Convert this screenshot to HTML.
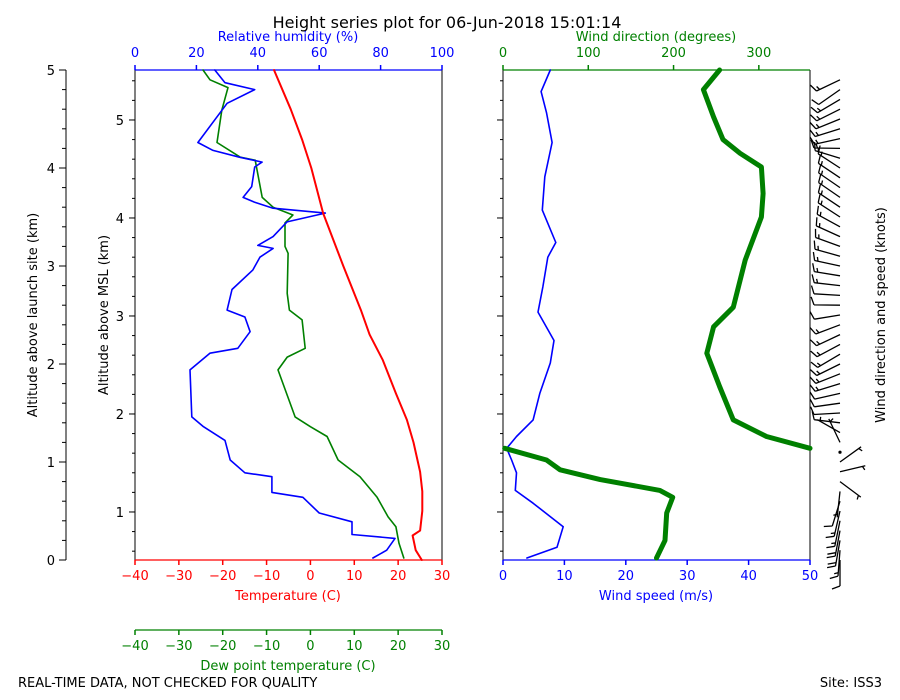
<!DOCTYPE html>
<html><head><meta charset="utf-8"><style>
body{margin:0;background:#fff;}
svg{display:block;font-family:"DejaVu Sans","Liberation Sans",sans-serif;}
</style></head><body>
<svg id="c" width="900" height="700" viewBox="0 0 900 700">
<rect width="900" height="700" fill="#fff"/>
<text x="447" y="28" font-size="16" text-anchor="middle">Height series plot for 06-Jun-2018 15:01:14</text>
<text x="18" y="687" font-size="13">REAL-TIME DATA, NOT CHECKED FOR QUALITY</text>
<text x="882" y="687" font-size="13" text-anchor="end">Site: ISS3</text>
<g id="g"></g>
</svg>
<script>
const tAlt=[0,0.1,0.25,0.3,0.5,0.7,0.9,1.0,1.2,1.43,1.7,2.04,2.3,2.55,3.0,3.54,4.0,4.29,4.6,5.0];
const temp=[25.4,24,23.3,25,25.5,25.5,25,24.5,23.5,22,19.5,16.5,13.5,11.5,7.5,2.9,0.2,-1.9,-4.5,-8.3];
const dAlt=[0.02,0.17,0.34,0.44,0.64,0.85,1.02,1.26,1.36,1.46,1.94,2.07,2.16,2.45,2.55,2.72,3.13,3.2,3.44,3.52,3.6,3.7,4.08,4.11,4.26,4.59,4.82,4.9,5.0];
const dew=[21.3,20.2,19.5,17.7,15.2,11.3,6.3,3.8,0,-3.5,-7.4,-5.3,-1.2,-1.9,-4.8,-5.3,-5.1,-5.8,-5.8,-4,-8.5,-11,-12.6,-16,-21.3,-20.2,-18.8,-22.9,-24.5];
const rAlt=[0.02,0.1,0.22,0.26,0.39,0.48,0.64,0.69,0.85,0.89,1.02,1.22,1.36,1.46,1.94,2.11,2.16,2.33,2.48,2.55,2.76,2.96,3.09,3.18,3.21,3.3,3.45,3.54,3.59,3.65,3.7,3.81,4.01,4.06,4.11,4.18,4.26,4.66,4.8,4.87,5.0];
const rh=[77.5,82,84.7,70.7,70.7,60,54.7,44.6,44.6,35.8,31,29.3,22.3,18.5,17.9,24.4,33.5,37.5,35.8,30,31.6,38.4,40.7,45,40,45,49.5,62,45,39,35.2,38,39,41.4,34,25.4,20.5,30,39,29.3,26];
const sAlt=[0.02,0.13,0.34,0.58,0.71,0.89,1.02,1.14,1.26,1.43,1.7,2.01,2.24,2.53,2.79,3.09,3.24,3.57,3.91,4.26,4.56,4.78,5.0];
const ws=[3.9,8.8,9.8,4.9,2.0,2.2,1.4,0.6,2.2,4.9,6.0,7.7,8.3,5.7,6.5,7.3,8.6,6.4,6.8,8.0,7.1,6.2,7.7];
const wAlt=[0.02,0.2,0.48,0.64,0.71,0.82,0.92,1.02,1.14,1.14,1.26,1.43,1.77,2.11,2.38,2.58,3.06,3.5,3.74,4.01,4.15,4.29,4.52,4.8,5.0];
const wd=[180,190,192,199,184,114,67,51,2,360,309,270,254,239,247,270,284,303,305,303,278,258,247,235,254];
const tTicks=[-40,-30,-20,-10,0,10,20,30];
const rhTicks=[0,20,40,60,80,100];
const wsTicks=[0,10,20,30,40,50];
const wdTicks=[0,100,200,300];
const altTicks=[0,1,2,3,4,5];
const mslTicks=[1,2,3,4,5];
const mslOffset=0.51;

const NS='http://www.w3.org/2000/svg';
const G=document.getElementById('g');
const yA=a=>560-a*98;
const xT=t=>135+(t+40)*307/70;
const xRH=r=>135+r*3.07;
const xWS=s=>503+s*6.14;
const xWD=d=>503+d*307/360;
function mk(tag,at,parent){const e=document.createElementNS(NS,tag);for(const k in at)e.setAttribute(k,at[k]);(parent||G).appendChild(e);return e;}
function line(x1,y1,x2,y2,c,w,name){const e=mk('line',{x1,y1,x2,y2,stroke:c,'stroke-width':w});

return e;}
function txt(x,y,s,c,anchor,name,size,rot){const e=mk('text',{x,y,fill:c,'font-size':size||13,'text-anchor':anchor||'middle'});e.textContent=s;if(rot)e.setAttribute('transform',`rotate(${rot} ${x} ${y})`);

return e;}
function series(alts,vals,fx,c,w,name){let d='';for(let i=0;i<alts.length;i++){const brk=i>0&&Math.abs(vals[i]-vals[i-1])>180;d+=(i==0||brk?'M':'L')+fx(vals[i]).toFixed(1)+','+yA(alts[i]).toFixed(1);}
const p=mk('path',{d,fill:'none',stroke:c,'stroke-width':w,'stroke-linejoin':'round','stroke-linecap':'round'});

}

// panel frames
line(135,70,135,560,'#000',1,'panel1-left-spine');
line(442,70,442,560,'#000',1,'panel1-right-spine');
line(503,70,503,560,'#000',1,'panel2-left-spine');
line(810,70,810,560,'#000',1,'panel2-right-spine');
line(66,70,66,560,'#000',1,'launch-altitude-axis');
// left launch axis
for(let a=0;a<=5.001;a+=0.2){line(62,yA(a),66,yA(a),'#000',1,'launch-minor-tick');}
altTicks.forEach(a=>{line(59,yA(a),66,yA(a),'#000',1,'launch-major-tick');txt(55,yA(a)+5,String(a),'#000','end','launch-tick-label');});
txt(37,315,'Altitude above launch site (km)','#000','middle','launch-axis-title',13,-90);
// MSL ticks on both panels
for(let m=0.6;m<=5.6;m+=0.2){const a=m-mslOffset;if(a<0||a>5)continue;line(132,yA(a),135,yA(a),'#000',1,'msl-minor-tick');line(500,yA(a),503,yA(a),'#000',1,'msl-minor-tick-p2');}
mslTicks.forEach(m=>{const a=m-mslOffset;line(129,yA(a),135,yA(a),'#000',1,'msl-major-tick');line(497,yA(a),503,yA(a),'#000',1,'msl-major-tick-p2');txt(124,yA(a)+5,String(m),'#000','end','msl-tick-label');});
txt(108,315,'Altitude above MSL (km)','#000','middle','msl-axis-title',13,-90);
// temperature axis
line(135,560,442,560,'red',1.2,'temperature-axis');
tTicks.forEach(t=>{line(xT(t),560,xT(t),565,'red',1.5,'temperature-tick');txt(xT(t),580,String(t).replace('-','\u2212'),'red','middle','temperature-tick-label');});
txt(288,600,'Temperature (C)','red','middle','temperature-axis-title');
// dew axis
line(135,630,442,630,'green',1.2,'dewpoint-axis');
tTicks.forEach(t=>{line(xT(t),630,xT(t),635,'green',1.5,'dewpoint-tick');txt(xT(t),650,String(t).replace('-','\u2212'),'green','middle','dewpoint-tick-label');});
txt(288,670,'Dew point temperature (C)','green','middle','dewpoint-axis-title');
// RH axis
line(135,70,442,70,'blue',1.2,'rh-axis');
rhTicks.forEach(r=>{line(xRH(r),65,xRH(r),70,'blue',1.5,'rh-tick');txt(xRH(r),57,String(r),'blue','middle','rh-tick-label');});
txt(288,41,'Relative humidity (%)','blue','middle','rh-axis-title');
// wind speed axis
line(503,560,810,560,'blue',1.2,'wind-speed-axis');
wsTicks.forEach(s=>{line(xWS(s),560,xWS(s),565,'blue',1.5,'wind-speed-tick');txt(xWS(s),580,String(s),'blue','middle','wind-speed-tick-label');});
txt(656,600,'Wind speed (m/s)','blue','middle','wind-speed-axis-title');
// wind dir axis
line(503,70,810,70,'green',1.2,'wind-direction-axis');
wdTicks.forEach(d=>{line(xWD(d),65,xWD(d),70,'green',1.5,'wind-direction-tick');txt(xWD(d),57,String(d),'green','middle','wind-direction-tick-label');});
txt(656,41,'Wind direction (degrees)','green','middle','wind-direction-axis-title');
txt(885,315,'Wind direction and speed (knots)','#000','middle','barb-axis-title',13,-90);
// series
series(dAlt,dew,xT,'green',1.6,'dewpoint-line');
series(rAlt,rh,xRH,'blue',1.6,'rh-line');
series(tAlt,temp,xT,'red',2,'temperature-line');
series(sAlt,ws,xWS,'blue',1.6,'wind-speed-line');
series(wAlt,wd,xWD,'green',5,'wind-direction-line');
// barbs
function interp(al,vl,a){if(a<=al[0])return vl[0];for(let i=1;i<al.length;i++){if(a<=al[i]){const f=(a-al[i-1])/((al[i]-al[i-1])||1);return vl[i-1]+f*(vl[i]-vl[i-1]);}}return vl[vl.length-1];}
for(let k=0;k<50;k++){const a=k*0.1;const s=interp(sAlt,ws,a);let d=interp(wAlt,wd,a);if(a>1.1&&a<1.2)d=10;
 const kt=Math.round(s*1.944/5)*5;const y=yA(a),x=840;
 if(kt===0){const c=mk('circle',{cx:x,cy:y,r:1.6,fill:'#000'});
  
  continue;}
 const r=d*Math.PI/180,dx=Math.sin(r),dy=-Math.cos(r),px=-dy,py=dx,L=26;
 const tx=x+dx*L,ty=y+dy*L;let p=`M${x},${y}L${tx.toFixed(1)},${ty.toFixed(1)}`;
 let full=Math.floor(kt/10),half=(kt%10)?1:0,pos=0;
 if(full===0&&half)pos=3;
 for(let f=0;f<full;f++){const bx=tx-dx*pos,by=ty-dy*pos;p+=`M${bx.toFixed(1)},${by.toFixed(1)}L${(bx+px*8+dx*3).toFixed(1)},${(by+py*8+dy*3).toFixed(1)}`;pos+=3.5;}
 if(half){const bx=tx-dx*pos,by=ty-dy*pos;p+=`M${bx.toFixed(1)},${by.toFixed(1)}L${(bx+px*4+dx*1.5).toFixed(1)},${(by+py*4+dy*1.5).toFixed(1)}`;}
 const b=mk('path',{d:p,stroke:'#000','stroke-width':1.3,fill:'none'});
 
 }
</script>
</body></html>
